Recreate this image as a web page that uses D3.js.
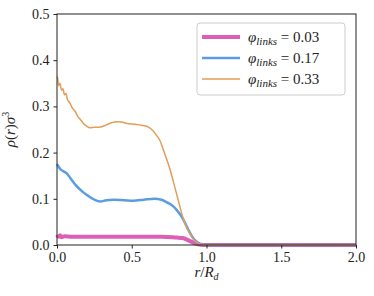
<!DOCTYPE html>
<html>
<head>
<meta charset="utf-8">
<script src="https://cdn.jsdelivr.net/npm/d3@7"></script>
<style>
body { margin: 0; background: #fff; }
svg text { font-family: "Times New Roman", Times, "Liberation Serif", "DejaVu Serif", serif; fill: #222; }
</style>
</head>
<body>
<script>
var w = 374;
var h = 296;
var margin = {top: 14, right: 18, bottom: 51, left: 57};

// r / R_d and rho(r) sigma^3
var r003   = [0, 0.01, 0.02, 0.03, 0.05, 0.1, 0.3, 0.5, 0.7, 0.8, 0.84, 0.88, 0.92, 0.96, 1.0, 2.0];
var rho003 = [0.022, 0.018, 0.021, 0.017, 0.019, 0.018, 0.018, 0.018, 0.018, 0.016, 0.015, 0.01, 0.004, 0.0005, 0, 0];

var r017   = [0, 0.01, 0.02, 0.04, 0.065, 0.1, 0.13, 0.155, 0.2, 0.25, 0.29, 0.33, 0.38, 0.45, 0.51, 0.58, 0.65, 0.7, 0.73, 0.76, 0.8, 0.84, 0.88, 0.92, 0.96, 0.98, 2.0];
var rho017 = [0.175, 0.17, 0.165, 0.16, 0.155, 0.14, 0.128, 0.12, 0.108, 0.098, 0.094, 0.097, 0.098, 0.097, 0.096, 0.098, 0.1, 0.098, 0.093, 0.088, 0.076, 0.058, 0.032, 0.011, 0.002, 0, 0];

var r033   = [0, 0.005, 0.01, 0.02, 0.03, 0.04, 0.05, 0.06, 0.07, 0.08, 0.09, 0.1, 0.12, 0.14, 0.16, 0.18, 0.2, 0.22, 0.25, 0.28, 0.3, 0.33, 0.36, 0.4, 0.43, 0.47, 0.5, 0.55, 0.6, 0.63, 0.66, 0.69, 0.72, 0.75, 0.78, 0.81, 0.84, 0.87, 0.9, 0.925, 0.95, 0.97, 1.0, 2.0];
var rho033 = [0.365, 0.36, 0.345, 0.35, 0.335, 0.338, 0.325, 0.328, 0.315, 0.31, 0.305, 0.298, 0.29, 0.278, 0.27, 0.262, 0.257, 0.254, 0.255, 0.255, 0.256, 0.26, 0.264, 0.267, 0.266, 0.263, 0.262, 0.26, 0.257, 0.251, 0.24, 0.225, 0.198, 0.17, 0.135, 0.098, 0.062, 0.036, 0.018, 0.008, 0.003, 0.001, 0, 0];

var labels = ["0.03", "0.17", "0.33"];
var colors = ["#dc5fb5", "#5a9ee1", "#e59c58"];
var widths = [4, 2.5, 1.5];

var xTicks = [0, 0.5, 1.0, 1.5, 2.0];
var yTicks = [0, 0.1, 0.2, 0.3, 0.4, 0.5];

var series = [
  {label: labels[0], r: r003, rho: rho003},
  {label: labels[1], r: r017, rho: rho017},
  {label: labels[2], r: r033, rho: rho033}
];

var svg = d3.select("body")
      .append("svg")
      .attr("width", w)
      .attr("height", h);

var x = d3.scaleLinear()
    .domain([0, 2])
    .range([margin.left, w - margin.right]);

var y = d3.scaleLinear()
    .domain([0, 0.5])
    .range([h - margin.bottom, margin.top]);

var line = d3.line()
    .x(function(d) { return x(d[0]); })
    .y(function(d) { return y(d[1]); })
    .curve(d3.curveMonotoneX);

// curves
series.forEach(function(s, i) {
  var pts = s.r.map(function(r, j) { return [r, s.rho[j]]; });
  svg.append("path")
    .datum(pts)
    .attr("fill", "none")
    .attr("stroke", colors[i])
    .attr("stroke-width", widths[i])
    .attr("stroke-linejoin", "round")
    .attr("d", line);
});

// frame
svg.append("rect")
  .attr("x", x(0))
  .attr("y", y(0.5))
  .attr("width", x(2) - x(0))
  .attr("height", y(0) - y(0.5))
  .attr("fill", "none")
  .attr("stroke", "#222")
  .attr("stroke-width", 1);

var fmt = d3.format(".1f");

svg.append("g")
  .attr("transform", "translate(0," + y(0) + ")")
  .call(d3.axisBottom(x).tickValues(xTicks).tickSize(3.5).tickPadding(4).tickFormat(fmt))
  .call(function(g) { g.select(".domain").remove(); })
  .call(function(g) {
    g.attr("font-family", null);
    g.selectAll("line").attr("stroke", "#222");
    g.selectAll("text").attr("font-size", 14).attr("fill", "#222");
  });

svg.append("g")
  .attr("transform", "translate(" + x(0) + ",0)")
  .call(d3.axisLeft(y).tickValues(yTicks).tickSize(3.5).tickPadding(4).tickFormat(fmt))
  .call(function(g) { g.select(".domain").remove(); })
  .call(function(g) {
    g.attr("font-family", null);
    g.selectAll("line").attr("stroke", "#222");
    g.selectAll("text").attr("font-size", 14).attr("fill", "#222");
  });

// axis labels
var xl = svg.append("text")
  .attr("x", (x(0) + x(2)) / 2)
  .attr("y", 277)
  .attr("text-anchor", "middle")
  .attr("font-size", 15);
xl.append("tspan").attr("font-style", "italic").text("r");
xl.append("tspan").text("/");
xl.append("tspan").attr("font-style", "italic").text("R");
xl.append("tspan").attr("font-style", "italic").attr("font-size", 10).attr("dy", 3).text("d");

var yl = svg.append("text")
  .attr("transform", "translate(15," + ((y(0) + y(0.5)) / 2) + ") rotate(-90)")
  .attr("text-anchor", "middle")
  .attr("font-size", 15);
yl.append("tspan").attr("font-style", "italic").text("ρ");
yl.append("tspan").text("(");
yl.append("tspan").attr("font-style", "italic").text("r");
yl.append("tspan").text(")");
yl.append("tspan").attr("font-style", "italic").text("σ");
yl.append("tspan").attr("font-size", 10).attr("dy", -6).text("3");

// legend
var lg = svg.append("g").attr("transform", "translate(197,23)");
lg.append("rect")
  .attr("width", 148)
  .attr("height", 72)
  .attr("rx", 3)
  .attr("fill", "#fff")
  .attr("fill-opacity", 0.8)
  .attr("stroke", "#cccccc");

series.forEach(function(s, i) {
  var yy = 14 + i * 21;
  lg.append("line")
    .attr("x1", 5).attr("x2", 43)
    .attr("y1", yy).attr("y2", yy)
    .attr("stroke", colors[i])
    .attr("stroke-width", widths[i]);
  var t = lg.append("text")
    .attr("x", 51)
    .attr("y", yy + 5)
    .attr("font-size", 15);
  t.append("tspan").attr("font-style", "italic").text("φ");
  t.append("tspan").attr("font-style", "italic").attr("font-size", 11).attr("dy", 3).text("links");
  t.append("tspan").attr("dy", -3).text(" = " + s.label);
});
</script>
</body>
</html>
